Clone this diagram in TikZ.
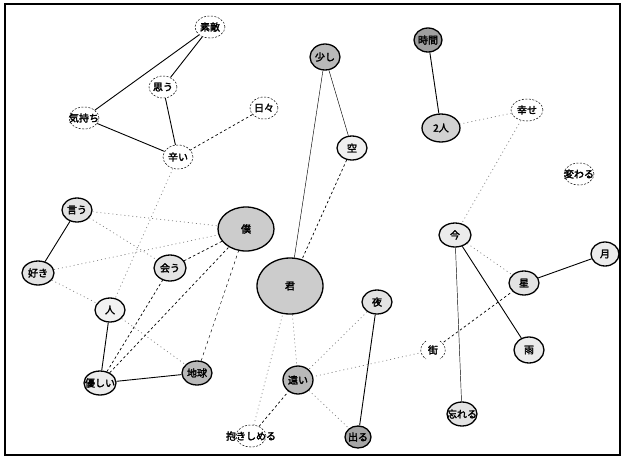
\documentclass[tikz,border=0pt]{standalone}
\usepackage{fontspec}
\setmainfont{Noto Sans CJK JP}[AutoFakeBold=2.5]
\usetikzlibrary{shapes.geometric,backgrounds}
\begin{document}
\begin{tikzpicture}[x=1pt,y=-1pt,
  lbl/.style={font=\fontsize{10}{11}\selectfont\bfseries},
  every label/.style={lbl},
  base/.style={ellipse,draw,inner sep=0pt,lbl},
  dnode/.style={base,dashed,dash pattern=on 2pt off 1.5pt,line width=0.5pt,fill=white},
  snode/.style={base,line width=1.3pt,fill=gray!22},
  dknode/.style={base,line width=1.3pt,fill=gray!55},
  big/.style={base,line width=1.3pt,fill=gray!40},
  sz/.style 2 args={minimum width=#1pt,minimum height=#2pt},
  strong/.style={line width=0.9pt},
  thinE/.style={line width=0.45pt},
  dashE/.style={line width=0.7pt,dash pattern=on 2.5pt off 2.5pt},
  dotE/.style={line width=0.7pt,gray,dash pattern=on 1pt off 3pt},
  paren/.style={line width=0.5pt,dash pattern=on 2pt off 1.5pt}]
\useasboundingbox (0,0) rectangle (625,459);
\draw[line width=1.3pt] (5,4) rectangle (620,455);
% nodes
\node[dnode,sz={30}{22},label=center:{素敵}] (suteki) at (210,27) {};
\node[dnode,sz={28}{22},label=center:{思う}] (omou) at (163,87) {};
\node[dnode,sz={30}{22},label=center:{気持ち}] (kimochi) at (84,118) {};
\node[dnode,sz={28}{22},label=center:{日々}] (hibi) at (264,108) {};
\node[dnode,sz={30}{24},label=center:{辛い}] (tsurai) at (178,157) {};
\node[snode,sz={30}{24},label=center:{言う}] (iu) at (77,210) {};
\node[snode,sz={32}{24},label=center:{好き}] (suki) at (38,273) {};
\node[snode,sz={30}{24},fill=gray!10,label=center:{人}] (hito) at (110,310) {};
\node[snode,sz={32}{26},label=center:{会う}] (au) at (170,268) {};
\node[big,sz={56}{44}] (boku) at (246,229) {僕};
\node[big,sz={66}{56}] (kimi) at (290,286) {君};
\node[snode,sz={32}{24},fill=gray!15,label=center:{優しい}] (yasashii) at (100,383) {};
\node[dknode,sz={30}{24},label=center:{地球}] (chikyu) at (197,373) {};
\node[dknode,sz={30}{26},label=center:{少し}] (sukoshi) at (325,57) {};
\node[snode,sz={30}{24},fill=gray!12,label=center:{空}] (sora) at (352,148) {};
\node[dknode,sz={28}{24},fill=gray!75,label=center:{時間}] (jikan) at (428,40) {};
\node[snode,sz={38}{28},fill=gray!35,label=center:{2人}] (futari) at (441,128) {};
\node[dnode,sz={32}{22},label=center:{幸せ}] (shiawase) at (527,110) {};
\node[dnode,sz={30}{22},label=center:{変わる}] (kawaru) at (579,174) {};
\node[snode,sz={32}{24},fill=gray!15,label=center:{今}] (ima) at (455,235) {};
\node[snode,sz={30}{24},label=center:{星}] (hoshi) at (524,283) {};
\node[snode,sz={28}{24},fill=gray!15,label=center:{月}] (tsuki) at (605,254) {};
\node[snode,sz={30}{26},fill=gray!15,label=center:{雨}] (ame) at (529,350) {};
\node[ellipse,minimum width=30pt,minimum height=22pt,inner sep=0pt,lbl] (machi) at (433,350) {街};
\draw[paren] ([shift={(-7,-9)}]machi.center) .. controls ([shift={(-14,-4)}]machi.center) and ([shift={(-14,4)}]machi.center) .. ([shift={(-7,9)}]machi.center);
\draw[paren] ([shift={(7,-9)}]machi.center) .. controls ([shift={(14,-4)}]machi.center) and ([shift={(14,4)}]machi.center) .. ([shift={(7,9)}]machi.center);
\node[snode,sz={30}{24},label=center:{夜}] (yoru) at (377,302) {};
\node[dknode,sz={30}{28},label=center:{遠い}] (tooi) at (298,380) {};
\node[dknode,sz={26}{22},fill=gray!70,label=center:{出る}] (deru) at (358,437) {};
\node[snode,sz={30}{24},label=center:{忘れる}] (wasureru) at (462,414) {};
\node[dnode,sz={30}{22},label=center:{抱きしめる}] (dakishimeru) at (251,436) {};
% edges
\begin{pgfonlayer}{background}
\draw[strong] (suteki) -- (omou);
\draw[strong] (suteki) -- (kimochi);
\draw[strong] (kimochi) -- (tsurai);
\draw[strong] (omou) -- (tsurai);
\draw[dashE] (hibi) -- (tsurai);
\draw[dotE] (tsurai) -- (hito);
\draw[strong] (iu) -- (suki);
\draw[dotE] (iu) -- (boku);
\draw[dotE] (iu) -- (au);
\draw[dotE] (suki) -- (boku);
\draw[dotE] (suki) -- (hito);
\draw[strong] (hito) -- (yasashii);
\draw[dotE] (hito) -- (chikyu);
\draw[strong] (yasashii) -- (chikyu);
\draw[dashE] (yasashii) -- (au);
\draw[dashE] (yasashii) -- (boku);
\draw[dashE] (au) -- (boku);
\draw[thinE,dashed] (chikyu) -- (boku);
\draw[thinE] (sukoshi) -- (kimi);
\draw[thinE] (sukoshi) -- (sora);
\draw[dashE] (sora) -- (kimi);
\draw[dotE] (dakishimeru) -- (kimi);
\draw[dashE] (dakishimeru) -- (tooi);
\draw[dotE] (kimi) -- (tooi);
\draw[dotE] (yoru) -- (tooi);
\draw[dotE] (tooi) -- (deru);
\draw[dotE] (machi) -- (tooi);
\draw[strong] (yoru) -- (deru);
\draw[strong] (jikan) -- (futari);
\draw[dotE] (shiawase) -- (futari);
\draw[dotE] (shiawase) -- (ima);
\draw[strong] (ima) -- (ame);
\draw[thinE] (ima) -- (wasureru);
\draw[dotE] (ima) -- (hoshi);
\draw[strong] (hoshi) -- (tsuki);
\draw[dashE] (machi) -- (hoshi);
\end{pgfonlayer}
\end{tikzpicture}
\end{document}
